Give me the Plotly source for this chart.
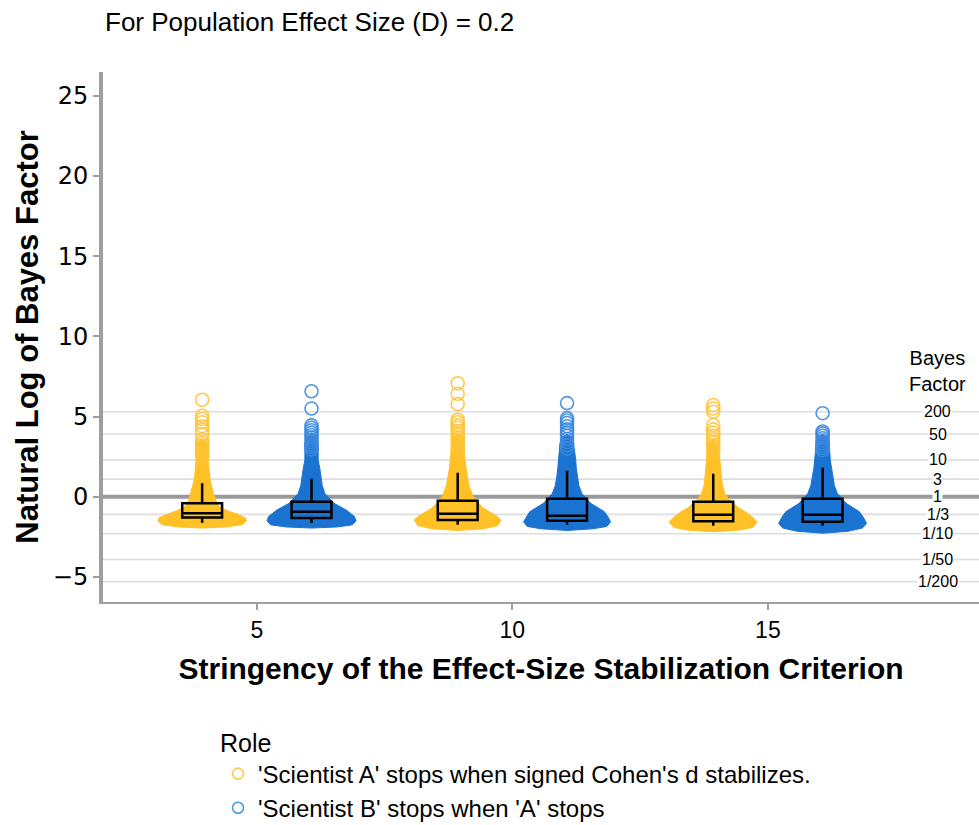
import numpy as np
import plotly.graph_objects as go

# ---------------- data ----------------
criteria = [5, 10, 15]
role_names = ["'Scientist A' stops when signed Cohen's d stabilizes.",
              "'Scientist B' stops when 'A' stops"]

# box statistics (natural log of Bayes factor)
a_q1 = [-1.30, -1.45, -1.52]
a_median = [-1.03, -1.06, -1.12]
a_q3 = [-0.41, -0.25, -0.31]
a_lower = [-1.64, -1.75, -1.81]
a_upper = [0.85, 1.50, 1.43]

b_q1 = [-1.33, -1.50, -1.56]
b_median = [-0.94, -1.18, -1.12]
b_q3 = [-0.31, -0.12, -0.12]
b_lower = [-1.64, -1.75, -1.81]
b_upper = [1.12, 1.62, 1.81]

# violin (density) profiles: levels and half-widths (x units)
a_levels = [
    [-1.95, -1.88, -1.75, -1.5, -1.3, -1.1, -0.9, -0.7, -0.5, -0.2, 0.2, 0.6, 1.0, 1.5, 2.0, 2.5, 3.0, 3.4, 3.6],
    [-2.10, -2.00, -1.80, -1.45, -1.2, -0.93, -0.7, -0.4, -0.1, 0.2, 0.7, 1.27, 1.8, 2.3, 2.8, 3.35, 3.8, 4.0],
    [-2.18, -2.08, -1.90, -1.56, -1.25, -0.93, -0.7, -0.41, -0.1, 0.21, 0.7, 1.27, 1.8, 2.3, 2.8, 3.3, 3.6],
]
a_halfw = [
    [0.0, 0.45, 0.78, 0.87, 0.84, 0.70, 0.52, 0.38, 0.30, 0.26, 0.22, 0.19, 0.16, 0.14, 0.12, 0.11, 0.10, 0.08, 0.0],
    [0.0, 0.50, 0.78, 0.85, 0.76, 0.62, 0.50, 0.41, 0.33, 0.28, 0.22, 0.19, 0.16, 0.14, 0.13, 0.12, 0.09, 0.0],
    [0.0, 0.50, 0.78, 0.86, 0.76, 0.63, 0.50, 0.39, 0.29, 0.23, 0.18, 0.16, 0.14, 0.13, 0.12, 0.09, 0.0],
]
b_levels = [
    [-1.95, -1.88, -1.75, -1.5, -1.23, -0.83, -0.41, 0.21, 0.7, 1.25, 1.8, 2.3, 2.8, 3.35, 3.7, 3.9],
    [-2.10, -2.00, -1.85, -1.56, -1.25, -0.93, -0.4, 0.2, 0.7, 1.27, 1.8, 2.3, 2.8, 3.3, 3.7, 3.9],
    [-2.27, -2.15, -1.95, -1.66, -1.3, -0.93, -0.41, 0.2, 0.7, 1.27, 1.8, 2.3, 2.8, 3.35, 3.7, 3.85],
]
b_halfw = [
    [0.0, 0.50, 0.80, 0.87, 0.84, 0.68, 0.44, 0.26, 0.21, 0.19, 0.16, 0.13, 0.13, 0.13, 0.10, 0.0],
    [0.0, 0.50, 0.78, 0.85, 0.80, 0.73, 0.46, 0.29, 0.23, 0.20, 0.18, 0.17, 0.15, 0.14, 0.11, 0.0],
    [0.0, 0.50, 0.78, 0.86, 0.80, 0.72, 0.46, 0.29, 0.23, 0.20, 0.17, 0.15, 0.14, 0.13, 0.10, 0.0],
]

# outliers (open circles)
a_outliers = [
    [6.05, 5.05, 4.85, 4.65, 4.4, 4.2, 3.9, 3.55, 3.35, 3.2, 3.05, 2.9, 2.75, 2.6, 2.45],
    [7.07, 6.42, 5.78, 4.8, 4.65, 4.45, 4.3, 4.1, 3.9, 3.7, 3.5, 3.3, 3.1, 2.9],
    [5.72, 5.5, 5.3, 4.47, 4.2, 4.0, 3.8, 3.6, 3.4, 3.2, 3.0, 2.8],
]
b_outliers = [
    [6.58, 5.5, 4.45, 4.3, 4.15, 4.0, 3.85, 3.7, 3.55, 3.4, 3.25, 3.1, 2.95],
    [5.84, 4.9, 4.75, 4.6, 4.4, 4.2, 4.0, 3.8, 3.6, 3.4, 3.2, 3.0],
    [5.21, 4.07, 3.95, 3.8, 3.65, 3.5, 3.35, 3.2, 3.05, 2.9],
]

bf_labels = ["200", "50", "10", "3", "1", "1/3", "1/10", "1/50", "1/200"]
bf_values = [200, 50, 10, 3, 1, 1/3, 1/10, 1/50, 1/200]

y_ticks = [-5, 0, 5, 10, 15, 20, 25]
x_ticks = [5, 10, 15]

# ---------------- style ----------------
YELLOW = "#FFC125"
BLUE = "#1A73D0"
YELLOW_O = "rgba(255,196,55,0.9)"
BLUE_O = "rgba(60,138,222,0.9)"
DODGE = 1.07
FONT = "Liberation Sans, Arial, sans-serif"
XR = [1.99, 19.13]
YR = [-6.56, 26.48]

fig = go.Figure()

groups = [
    (-DODGE, YELLOW, YELLOW_O, a_levels, a_halfw, a_outliers,
     (a_q1, a_median, a_q3, a_lower, a_upper)),
    (DODGE, BLUE, BLUE_O, b_levels, b_halfw, b_outliers,
     (b_q1, b_median, b_q3, b_lower, b_upper)),
]

# violins
for off, col, ocol, levs, hws, outs, stats in groups:
    for i, c in enumerate(criteria):
        pos = c + off
        lv = np.array(levs[i])
        hw = np.array(hws[i])
        xs = np.concatenate([pos + hw, (pos - hw)[::-1]])
        ys = np.concatenate([lv, lv[::-1]])
        fig.add_trace(go.Scatter(x=xs, y=ys, mode="lines", fill="toself",
                                 fillcolor=col, line=dict(color=col, width=1),
                                 showlegend=False, hoverinfo="skip"))

# outliers
for off, col, ocol, levs, hws, outs, stats in groups:
    for i, c in enumerate(criteria):
        pos = c + off
        fig.add_trace(go.Scatter(x=[pos] * len(outs[i]), y=outs[i], mode="markers",
                                 marker=dict(symbol="circle-open", size=13,
                                             color=ocol, line=dict(width=1.6)),
                                 showlegend=False))

# boxes (on an overlaying axis pair so they draw above the violins)
for off, col, ocol, levs, hws, outs, stats in groups:
    q1, med, q3, lo, hi = stats
    fig.add_trace(go.Box(x=[c + off for c in criteria], q1=q1, median=med, q3=q3,
                         lowerfence=lo, upperfence=hi, width=0.78, whiskerwidth=0,
                         fillcolor="rgba(0,0,0,0)", line=dict(color="black", width=2.5),
                         boxpoints=False, showlegend=False, hoverinfo="skip",
                         xaxis="x2", yaxis="y2"))

# legend entries
for name, ocol in zip(role_names, [YELLOW_O, BLUE_O]):
    fig.add_trace(go.Scatter(x=[None], y=[None], mode="markers", name=name,
                             marker=dict(symbol="circle-open", size=11, color=ocol,
                                         line=dict(width=1.6))))

# Bayes-factor reference lines
shapes = []
for lab, v in zip(bf_labels, bf_values):
    yv = float(np.log(v))
    if lab == "1":
        shapes.append(dict(type="line", xref="paper", yref="y", x0=0, x1=1, y0=yv, y1=yv,
                           line=dict(color="#9a9a9a", width=4), layer="below"))
    else:
        shapes.append(dict(type="line", xref="paper", yref="y", x0=0, x1=1, y0=yv, y1=yv,
                           line=dict(color="#dedede", width=1.6), layer="below"))

annotations = []
for lab, v in zip(bf_labels, bf_values):
    annotations.append(dict(x=0.953, xref="paper", y=float(np.log(v)), yref="y",
                            text=lab, showarrow=False, bgcolor="white", borderpad=0,
                            font=dict(family=FONT, size=16, color="black"),
                            xanchor="center", yanchor="middle"))
annotations.append(dict(x=0.953, xref="paper", y=6.2, yref="y",
                        text="Bayes<br>Factor", showarrow=False, align="center",
                        font=dict(family=FONT, size=20, color="black"),
                        xanchor="center", yanchor="bottom"))

fig.update_layout(
    width=979, height=825,
    margin=dict(l=103, r=0, t=72, b=223, autoexpand=False),
    paper_bgcolor="white", plot_bgcolor="white",
    shapes=shapes, annotations=annotations,
    title=dict(text="For Population Effect Size (D) = 0.2", xref="container",
               x=105 / 979, xanchor="left", y=1 - 22 / 825, yanchor="middle",
               font=dict(family=FONT, size=26, color="black")),
    xaxis=dict(range=XR, tickvals=x_ticks, ticktext=[str(t) for t in x_ticks],
               showgrid=False, zeroline=False, showline=True, linecolor="#a0a0a0",
               linewidth=2, ticks="outside", ticklen=6, tickwidth=2, tickcolor="#a0a0a0",
               automargin=False,
               tickfont=dict(family=FONT, size=23, color="black"),
               title=dict(text="<b>Stringency of the Effect-Size Stabilization Criterion</b>",
                          font=dict(family=FONT, size=30, color="black"), standoff=16)),
    yaxis=dict(range=YR, tickvals=y_ticks, showgrid=False, zeroline=False,
               showline=True, linecolor="#9e9e9e", linewidth=4, ticks="outside",
               ticklen=6, tickwidth=2, tickcolor="#9e9e9e",
               automargin=False,
               tickfont=dict(family="DejaVu Sans", size=24, color="black"),
               title=dict(text="<b>Natural Log of Bayes Factor</b>",
                          font=dict(family=FONT, size=31, color="black"), standoff=6)),
    xaxis2=dict(range=XR, overlaying="x", visible=False),
    yaxis2=dict(range=YR, overlaying="y", visible=False),
    legend=dict(title=dict(text="Role", font=dict(family=FONT, size=25, color="black")),
                font=dict(family=FONT, size=24, color="black"),
                x=(218 - 103) / 876, xanchor="left", y=(602 - 719) / 530, yanchor="top",
                bgcolor="rgba(0,0,0,0)", tracegroupgap=0),
    showlegend=True,
)

fig.write_html("out.html", config={"displayModeBar": False},
               post_script="document.body.style.margin='0px';")
